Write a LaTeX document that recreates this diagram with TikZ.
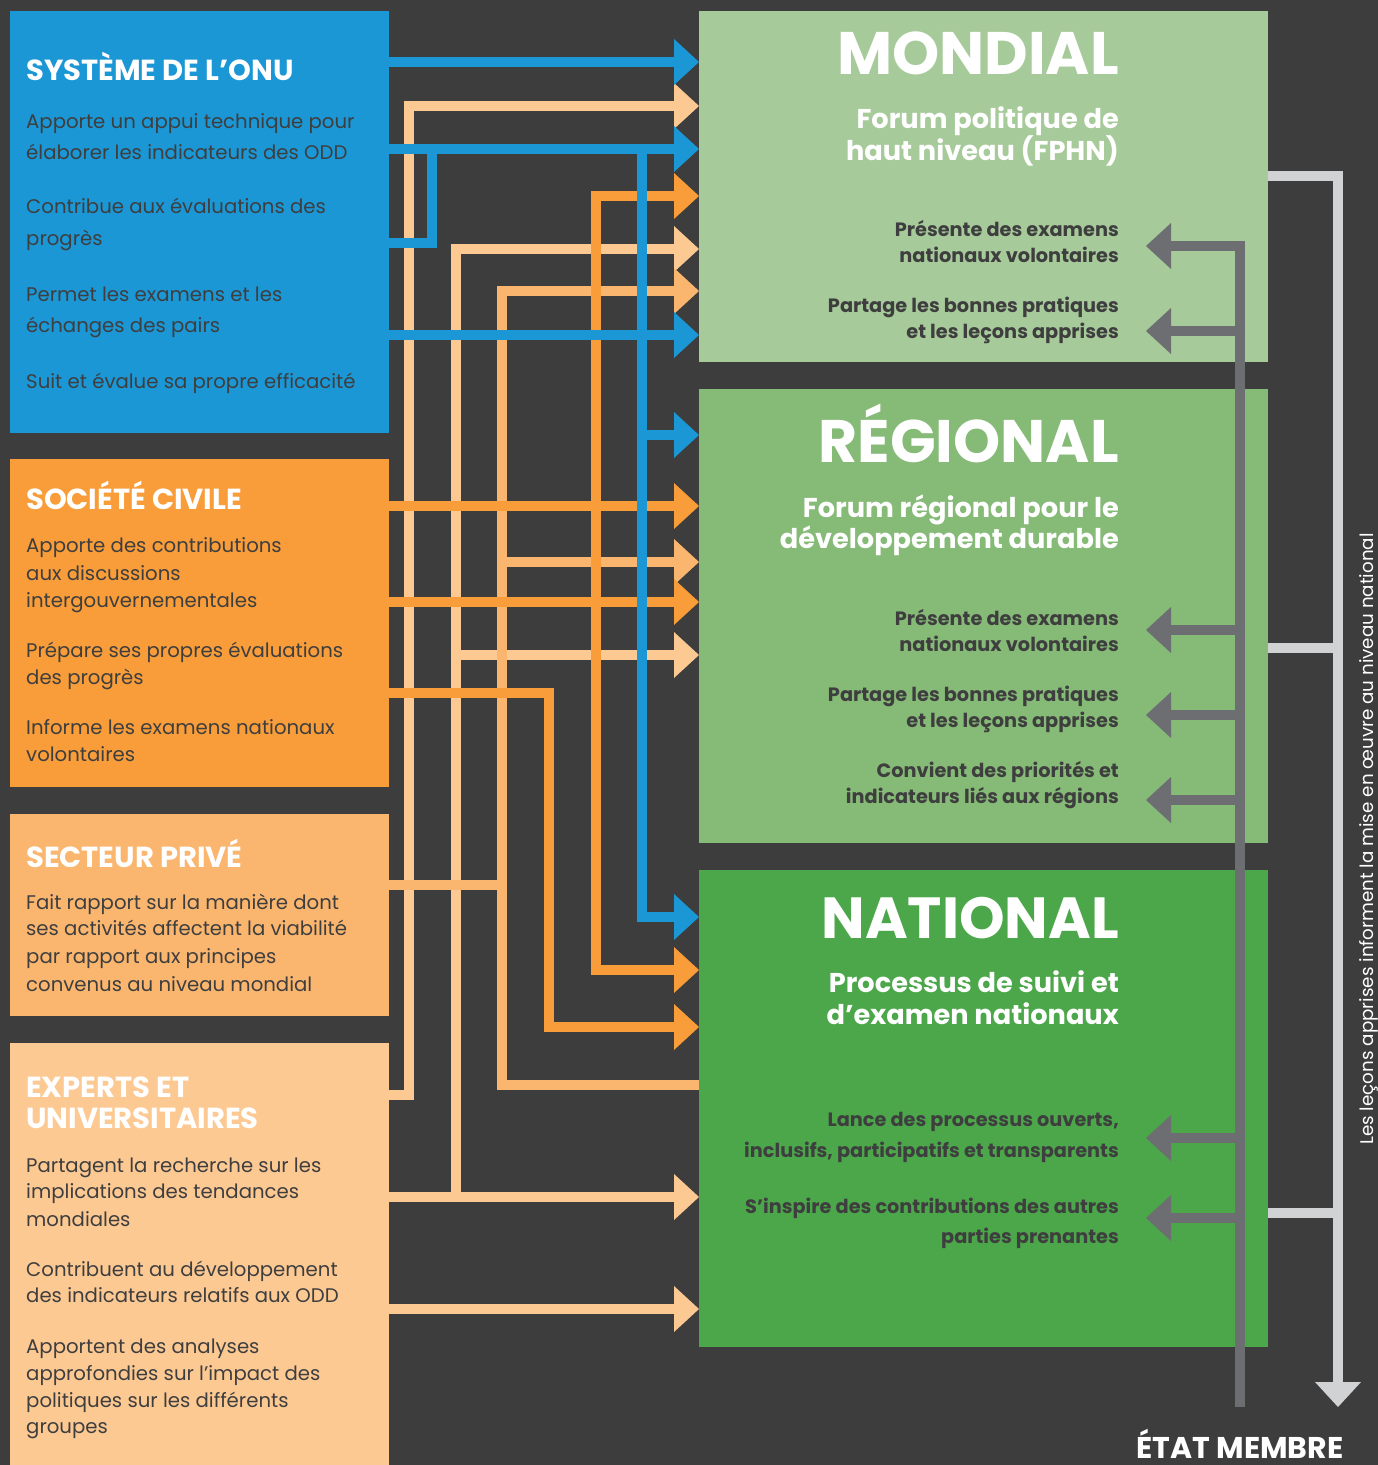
\documentclass[tikz,border=0pt]{standalone}
\usepackage{fontspec}
\setmainfont{Poppins}
\usetikzlibrary{arrows.meta}
\definecolor{bg}{HTML}{3D3D3D}
\definecolor{conu}{HTML}{1B97D5}
\definecolor{cciv}{HTML}{F89D39}
\definecolor{cpriv}{HTML}{FAB66F}
\definecolor{cexp}{HTML}{FDC993}
\definecolor{cmond}{HTML}{A6CA99}
\definecolor{creg}{HTML}{86BA77}
\definecolor{cnat}{HTML}{4BA74A}
\definecolor{cdgray}{HTML}{6D6E72}
\definecolor{clgray}{HTML}{D1D2D4}
\definecolor{txtd}{HTML}{3E3E3F}
\newcommand\mytl[5]{\node[#4] (#1) at (#2,#3) {#5};}
\begin{document}
\begin{tikzpicture}[x=1pt,y=-1pt,
  box/.style={anchor=north west,inner sep=0pt,outer sep=0pt,draw=none},
  conn/.style={line width=10.5pt,line cap=butt,line join=miter},
  tip/.style={-{Triangle[length=25pt,width=46pt,line width=0pt]}},
  tipboth/.style={{Triangle[length=25pt,width=46pt,line width=0pt]}-{Triangle[length=25pt,width=46pt,line width=0pt]}},
  lt/.style={anchor=base west,inner sep=0pt,text=txtd,font=\fontsize{19.7}{24}\selectfont},
  lth/.style={anchor=base west,inner sep=0pt,text=white,font=\bfseries\fontsize{29}{32}\selectfont},
  rt/.style={anchor=base east,inner sep=0pt,text=txtd,font=\bfseries\fontsize{19.3}{22}\selectfont},
  rsub/.style={anchor=base east,inner sep=0pt,text=white,font=\bfseries\fontsize{27.2}{30}\selectfont},
  rtit/.style={anchor=base east,inner sep=0pt,text=white,font=\bfseries\fontsize{60}{62}\selectfont}]
\useasboundingbox (0,0) rectangle (1378,1465);
\fill[bg] (0,0) rectangle (1378,1465);
% boxes
\node[box,fill=conu,minimum width=379pt,minimum height=422pt] (onu) at (10,11) {};
\node[box,fill=cciv,minimum width=379pt,minimum height=328pt] (civ) at (10,459) {};
\node[box,fill=cpriv,minimum width=379pt,minimum height=202pt] (priv) at (10,814) {};
\node[box,fill=cexp,minimum width=379pt,minimum height=430pt] (expt) at (10,1043) {};
\node[box,fill=cmond,minimum width=569pt,minimum height=351pt] (mond) at (699,11) {};
\node[box,fill=creg,minimum width=569pt,minimum height=454pt] (reg) at (699,389) {};
\node[box,fill=cnat,minimum width=569pt,minimum height=477pt] (nat) at (699,870) {};
% peach (experts) connectors
\draw[conn,cexp,tip] (expt.east |- 0,1095) -- (409,1095) -- (409,106) -- (mond.west |- 0,106);
\draw[conn,cexp,tip] (expt.east |- 0,1197) -- (nat.west |- 0,1197);
\draw[conn,cexp,tip] (456,1197) -- (456,249) -- (mond.west |- 0,249);
\draw[conn,cexp,tip] (456,655) -- (reg.west |- 0,655);
\draw[conn,cexp,tip] (expt.east |- 0,1309) -- (nat.west |- 0,1309);
% private sector connectors
\draw[conn,cpriv] (priv.east |- 0,885) -- (502,885);
\draw[conn,cpriv,tip] (nat.west |- 0,1085) -- (502,1085) -- (502,291) -- (mond.west |- 0,291);
\draw[conn,cpriv,tip] (502,562) -- (reg.west |- 0,562);
% civil society connectors
\draw[conn,cciv,tip] (civ.east |- 0,506) -- (reg.west |- 0,506);
\draw[conn,cciv,tip] (civ.east |- 0,602) -- (reg.west |- 0,602);
\draw[conn,cciv,tip] (civ.east |- 0,693) -- (549,693) -- (549,1027) -- (nat.west |- 0,1027);
\draw[conn,cciv,tipboth] (mond.west |- 0,196) -- (596,196) -- (596,970) -- (nat.west |- 0,970);
% UN connectors
\draw[conn,conu,tip] (onu.east |- 0,62) -- (mond.west |- 0,62);
\draw[conn,conu,tip] (onu.east |- 0,149) -- (mond.west |- 0,149);
\draw[conn,conu] (onu.east |- 0,243) -- (432,243) -- (432,149);
\draw[conn,conu,tip] (642,149) -- (642,917) -- (nat.west |- 0,917);
\draw[conn,conu,tip] (642,435) -- (reg.west |- 0,435);
\draw[conn,conu,tip] (onu.east |- 0,335) -- (mond.west |- 0,335);
% member state feedback
\coordinate (etat) at (1240,1407);
\draw[conn,cdgray,tip] (etat) -- (1240,246) -- (1146,246);
\foreach \yy in {331,630,715,800,1138,1218}{
  \draw[conn,cdgray,tip] (1240,\yy) -- (1146,\yy);}
\coordinate (lend) at (1338,1407);
\draw[conn,clgray,tip] (mond.east |- 0,176) -- (1338,176) -- (lend);
\draw[conn,clgray] (reg.east |- 0,648) -- (1338,648);
\draw[conn,clgray] (nat.east |- 0,1213) -- (1338,1213);
% left texts
\mytl{t1}{26}{80}{lth}{SYSTÈME DE L’ONU}
\mytl{t2}{26}{128}{lt}{Apporte un appui technique pour}
\mytl{t3}{26}{159}{lt}{élaborer les indicateurs des ODD}
\mytl{t4}{26}{213}{lt}{Contribue aux évaluations des}
\mytl{t5}{26}{245}{lt}{progrès}
\mytl{t6}{26}{301}{lt}{Permet les examens et les}
\mytl{t7}{26}{332}{lt}{échanges des pairs}
\mytl{t8}{26}{388}{lt}{Suit et évalue sa propre efficacité}
\mytl{c1}{26}{509}{lth}{SOCIÉTÉ CIVILE}
\mytl{c2}{26}{552}{lt}{Apporte des contributions}
\mytl{c3}{26}{580}{lt}{aux discussions}
\mytl{c4}{26}{607}{lt}{intergouvernementales}
\mytl{c5}{26}{657}{lt}{Prépare ses propres évaluations}
\mytl{c6}{26}{684}{lt}{des progrès}
\mytl{c7}{26}{734}{lt}{Informe les examens nationaux}
\mytl{c8}{26}{761}{lt}{volontaires}
\mytl{p1}{26}{867}{lth}{SECTEUR PRIVÉ}
\mytl{p2}{26}{909}{lt}{Fait rapport sur la manière dont}
\mytl{p3}{26}{935}{lt}{ses activités affectent la viabilité}
\mytl{p4}{26}{963}{lt}{par rapport aux principes}
\mytl{p5}{26}{991}{lt}{convenus au niveau mondial}
\mytl{e1}{26}{1097}{lth}{EXPERTS ET}
\mytl{e2}{26}{1128}{lth}{UNIVERSITAIRES}
\mytl{e3}{26}{1172}{lt}{Partagent la recherche sur les}
\mytl{e4}{26}{1198}{lt}{implications des tendances}
\mytl{e5}{26}{1226}{lt}{mondiales}
\mytl{e6}{26}{1276}{lt}{Contribuent au développement}
\mytl{e7}{26}{1302}{lt}{des indicateurs relatifs aux ODD}
\mytl{e8}{26}{1353}{lt}{Apportent des analyses}
\mytl{e9}{26}{1380}{lt}{approfondies sur l’impact des}
\mytl{e10}{26}{1407}{lt}{politiques sur les différents}
\mytl{e11}{26}{1433}{lt}{groupes}
% right texts
\mytl{m1}{1119}{74}{rtit}{MONDIAL}
\mytl{m2}{1119}{128}{rsub}{Forum politique de}
\mytl{m3}{1119}{160}{rsub}{haut niveau (FPHN)}
\mytl{m4}{1119}{236}{rt}{Présente des examens}
\mytl{m5}{1119}{262}{rt}{nationaux volontaires}
\mytl{m6}{1119}{312}{rt}{Partage les bonnes pratiques}
\mytl{m7}{1119}{338}{rt}{et les leçons apprises}
\mytl{r1}{1119}{462}{rtit}{RÉGIONAL}
\mytl{r2}{1119}{517}{rsub}{Forum régional pour le}
\mytl{r3}{1119}{548}{rsub}{développement durable}
\mytl{r4}{1119}{625}{rt}{Présente des examens}
\mytl{r5}{1119}{651}{rt}{nationaux volontaires}
\mytl{r6}{1119}{701}{rt}{Partage les bonnes pratiques}
\mytl{r7}{1119}{727}{rt}{et les leçons apprises}
\mytl{r8}{1119}{777}{rt}{Convient des priorités et}
\mytl{r9}{1119}{803}{rt}{indicateurs liés aux régions}
\mytl{n1}{1119}{938}{rtit,font=\bfseries\fontsize{58}{60}\selectfont}{NATIONAL}
\mytl{n2}{1119}{992}{rsub}{Processus de suivi et}
\mytl{n3}{1119}{1024}{rsub}{d’examen nationaux}
\mytl{n4}{1119}{1126}{rt}{Lance des processus ouverts,}
\mytl{n5}{1119}{1157}{rt}{inclusifs, participatifs et transparents}
\mytl{n6}{1119}{1213}{rt}{S’inspire des contributions des autres}
\mytl{n7}{1119}{1243}{rt}{parties prenantes}
% side texts
\node[anchor=base,inner sep=0pt,text=white,rotate=90,font=\fontsize{18.3}{20}\selectfont] (lecons) at (1373,839) {Les leçons apprises informent la mise en œuvre au niveau national};
\node[anchor=base,inner sep=0pt,text depth=0pt,text=white,font=\bfseries\fontsize{30}{32}\selectfont] (etatm) at (1240,1458) {ÉTAT MEMBRE};
\end{tikzpicture}
\end{document}
